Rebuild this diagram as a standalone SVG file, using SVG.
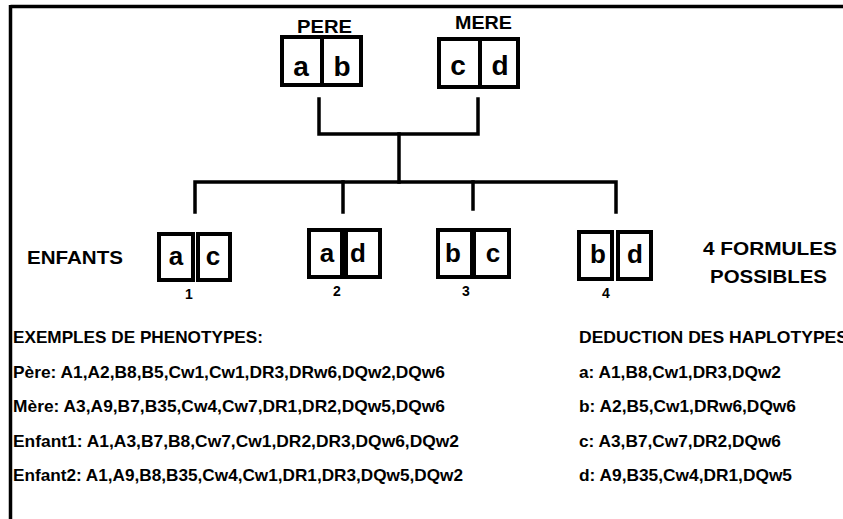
<svg xmlns="http://www.w3.org/2000/svg" width="843" height="519" viewBox="0 0 843 519">
  <style>
    text { font-family: "Liberation Sans", Arial, sans-serif; font-weight: bold; fill: #000; }
    .cell { fill: #fff; stroke: #000; stroke-width: 4; }
    .line { fill: none; stroke: #000; stroke-width: 3.5; stroke-linecap: square; }
    .head { font-size: 19px; }
    .pl { font-size: 28px; text-anchor: middle; }
    .cl { font-size: 26px; text-anchor: middle; }
    .num { font-size: 14px; text-anchor: middle; }
    .lbl { font-size: 18px; }
    .row { font-size: 16.5px; }
  </style>
  <rect width="843" height="519" fill="#fff"/>

  <!-- frame: top and left rules -->
  <g id="frame">
    <line x1="10.5" y1="6.5" x2="843" y2="6.5" stroke="#000" stroke-width="3.5"/>
    <line x1="10.5" y1="5" x2="10.5" y2="519" stroke="#000" stroke-width="3.5"/>
  </g>

  <!-- pedigree connectors -->
  <g id="connectors">
    <path class="line" d="M319,99 V134 H478 V99"/>
    <path class="line" d="M399,134 V182"/>
    <path class="line" d="M195,212 V182 H616 V212"/>
    <path class="line" d="M343,182 V212"/>
    <path class="line" d="M473,182 V209"/>
  </g>

  <!-- parents -->
  <g id="pere">
    <text class="head" x="297" y="33" textLength="55" lengthAdjust="spacingAndGlyphs">PERE</text>
    <rect class="cell" x="282" y="37" width="40" height="48"/>
    <rect class="cell" x="322" y="37" width="39" height="48"/>
    <text class="pl" x="301" y="76">a</text>
    <text class="pl" x="342" y="76">b</text>
  </g>
  <g id="mere">
    <text class="head" x="455" y="29" textLength="57" lengthAdjust="spacingAndGlyphs">MERE</text>
    <rect class="cell" x="439" y="39" width="42" height="48"/>
    <rect class="cell" x="480" y="39" width="38" height="48"/>
    <text class="pl" x="458" y="75">c</text>
    <text class="pl" x="500" y="75">d</text>
  </g>

  <!-- children -->
  <g id="enfants-label">
    <text class="lbl" x="27" y="264" textLength="96" lengthAdjust="spacingAndGlyphs">ENFANTS</text>
  </g>
  <g id="enfant1">
    <rect class="cell" x="159" y="234" width="34" height="46"/>
    <rect class="cell" x="198" y="234" width="32" height="46"/>
    <text class="cl" x="176" y="265">a</text>
    <text class="cl" x="213" y="265">c</text>
    <text class="num" x="189" y="299">1</text>
  </g>
  <g id="enfant2">
    <rect class="cell" x="309" y="230" width="33" height="47"/>
    <rect class="cell" x="346" y="230" width="34" height="47"/>
    <text class="cl" x="327" y="262">a</text>
    <text class="cl" x="358" y="262">d</text>
    <text class="num" x="337" y="296">2</text>
  </g>
  <g id="enfant3">
    <rect class="cell" x="438" y="230" width="34" height="47"/>
    <rect class="cell" x="474" y="230" width="35" height="47"/>
    <text class="cl" x="453" y="262">b</text>
    <text class="cl" x="493" y="262">c</text>
    <text class="num" x="466" y="296">3</text>
  </g>
  <g id="enfant4">
    <rect class="cell" x="579" y="232" width="33" height="47"/>
    <rect class="cell" x="618" y="232" width="33" height="47"/>
    <text class="cl" x="598" y="263">b</text>
    <text class="cl" x="635" y="263">d</text>
    <text class="num" x="606" y="298">4</text>
  </g>
  <g id="formules">
    <text class="lbl" x="703" y="255" textLength="134" lengthAdjust="spacingAndGlyphs">4 FORMULES</text>
    <text class="lbl" x="710" y="283" textLength="117" lengthAdjust="spacingAndGlyphs">POSSIBLES</text>
  </g>

  <!-- phenotype examples -->
  <g id="phenotypes">
    <text class="row" x="13" y="343" textLength="250" lengthAdjust="spacingAndGlyphs">EXEMPLES DE PHENOTYPES:</text>
    <text class="row" x="13" y="378" textLength="432" lengthAdjust="spacingAndGlyphs">Père: A1,A2,B8,B5,Cw1,Cw1,DR3,DRw6,DQw2,DQw6</text>
    <text class="row" x="13" y="412" textLength="432" lengthAdjust="spacingAndGlyphs">Mère: A3,A9,B7,B35,Cw4,Cw7,DR1,DR2,DQw5,DQw6</text>
    <text class="row" x="13" y="447" textLength="446" lengthAdjust="spacingAndGlyphs">Enfant1: A1,A3,B7,B8,Cw7,Cw1,DR2,DR3,DQw6,DQw2</text>
    <text class="row" x="13" y="481" textLength="450" lengthAdjust="spacingAndGlyphs">Enfant2: A1,A9,B8,B35,Cw4,Cw1,DR1,DR3,DQw5,DQw2</text>
  </g>

  <!-- deduced haplotypes -->
  <g id="haplotypes">
    <text class="row" x="579" y="343" textLength="269" lengthAdjust="spacingAndGlyphs">DEDUCTION DES HAPLOTYPES</text>
    <text class="row" x="579" y="378" textLength="202" lengthAdjust="spacingAndGlyphs">a: A1,B8,Cw1,DR3,DQw2</text>
    <text class="row" x="579" y="412" textLength="217" lengthAdjust="spacingAndGlyphs">b: A2,B5,Cw1,DRw6,DQw6</text>
    <text class="row" x="579" y="447" textLength="202" lengthAdjust="spacingAndGlyphs">c: A3,B7,Cw7,DR2,DQw6</text>
    <text class="row" x="579" y="481" textLength="213" lengthAdjust="spacingAndGlyphs">d: A9,B35,Cw4,DR1,DQw5</text>
  </g>
</svg>
